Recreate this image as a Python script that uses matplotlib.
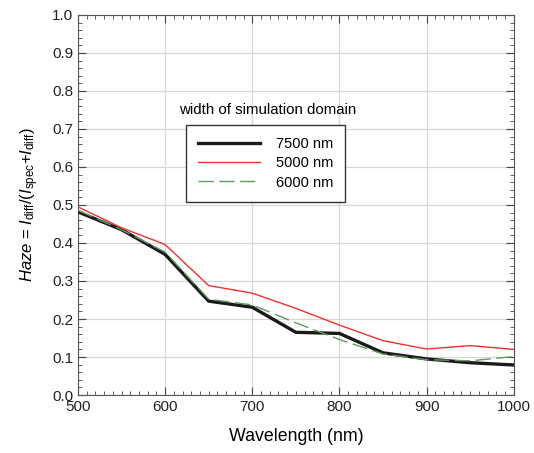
import matplotlib.pyplot as plt
from matplotlib.ticker import MultipleLocator

plt.rcParams['font.family'] = ['Liberation Sans', 'DejaVu Sans']
plt.rcParams['mathtext.fontset'] = 'custom'
plt.rcParams['mathtext.rm'] = 'Liberation Sans'
plt.rcParams['mathtext.it'] = 'Liberation Sans:italic'

wavelength = [500, 550, 600, 650, 700, 750, 800, 850, 900, 950, 1000]
haze_7500 = [0.482, 0.435, 0.370, 0.247, 0.231, 0.165, 0.162, 0.111, 0.095, 0.085, 0.079]
haze_5000 = [0.495, 0.440, 0.396, 0.288, 0.268, 0.228, 0.184, 0.143, 0.121, 0.130, 0.120]
haze_6000 = [0.486, 0.435, 0.376, 0.252, 0.237, 0.190, 0.146, 0.108, 0.093, 0.090, 0.101]

fig = plt.figure(figsize=(5.34, 4.53), dpi=100)
ax = fig.add_axes([0.146, 0.128, 0.816, 0.839])

ax.plot(wavelength, haze_7500, color='#1a1a1a', lw=2.4, label='7500 nm', zorder=3)
ax.plot(wavelength, haze_5000, color='#f03030', lw=1.0, label='5000 nm', zorder=4)
ax.plot(wavelength, haze_6000, color='#5e9a5e', lw=1.0, ls=(0, (11, 4)), label='6000 nm', zorder=5)

ax.set_xlim(500, 1000)
ax.set_ylim(0, 1.0)
ax.xaxis.set_major_locator(MultipleLocator(100))
ax.xaxis.set_minor_locator(MultipleLocator(10))
ax.yaxis.set_major_locator(MultipleLocator(0.1))
ax.yaxis.set_minor_locator(MultipleLocator(0.02))
ax.tick_params(which='both', direction='in', top=True, right=True, colors='#444444',
               labelcolor='#222222', labelsize=11)
ax.tick_params(which='major', length=6)
ax.tick_params(which='minor', length=3)
ax.grid(which='major', color='#d8d8d8', lw=0.9)
for s in ax.spines.values():
    s.set_color('#555555')

ax.set_xlabel('Wavelength (nm)', fontsize=12.8, labelpad=10)
ax.set_ylabel(r'$\mathit{Haze}$ = $\mathit{I}_{\rm diff}/(\mathit{I}_{\rm spec}$+$\mathit{I}_{\rm diff})$',
              fontsize=12, labelpad=8)

ax.text(0.232, 0.75, 'width of simulation domain', transform=ax.transAxes,
        fontsize=10.8, va='center')
leg = ax.legend(loc='upper left', bbox_to_anchor=(0.248, 0.7105), fontsize=10.5,
                frameon=True, fancybox=False, edgecolor='#333333', framealpha=1,
                borderaxespad=0, handlelength=4.2, borderpad=0.85, labelspacing=0.35,
                handletextpad=1.1)
leg.get_frame().set_linewidth(1.0)

fig.savefig('out.png', dpi=100)
